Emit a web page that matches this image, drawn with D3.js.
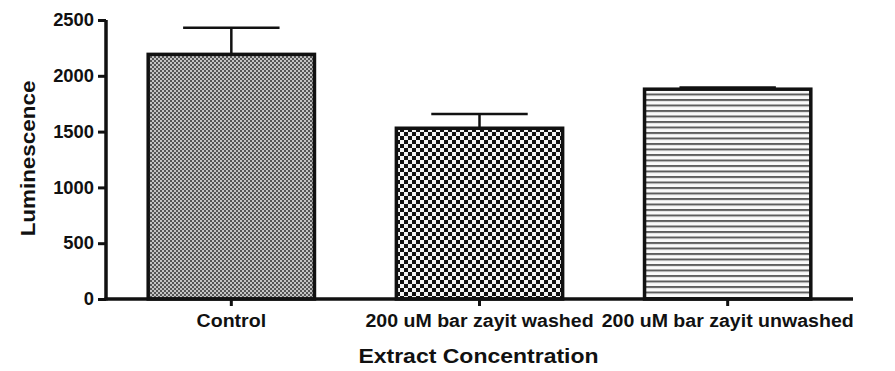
<!DOCTYPE html>
<html>
<head>
<meta charset="utf-8">
<script src="https://cdn.jsdelivr.net/npm/d3@7"></script>
<style>
  html, body { margin: 0; padding: 0; background: #fff; }
  svg { display: block; }
  text { font-family: "Liberation Sans", Arial, sans-serif; font-weight: bold; fill: #111; }
</style>
</head>
<body>
<svg id="chart" width="895" height="371"></svg>
<script>
// Luminescence by extract concentration (mean with upper SEM)
const categories = ["Control", "200 uM bar zayit washed", "200 uM bar zayit unwashed"];
const means = [2192, 1530, 1880];
const errors = [238, 128, 15];
const yTicks = [0, 500, 1000, 1500, 2000, 2500];
const patternIds = ["fineCheck", "coarseCheck", "hStripes"];

const svg = d3.select("#chart");
const plotLeft = 106, plotRight = 853, plotTop = 20, plotBottom = 299;

const x = d3.scaleBand().domain(categories).range([plotLeft, plotRight])
  .paddingInner(0.33).paddingOuter(0.17);
const y = d3.scaleLinear().domain([0, 2500]).range([plotBottom, plotTop]);

// Fill patterns
const defs = svg.append("defs");
const p1 = defs.append("pattern").attr("id", "fineCheck").attr("patternUnits", "userSpaceOnUse")
  .attr("width", 4).attr("height", 4);
p1.append("rect").attr("width", 4).attr("height", 4).attr("fill", "#555");
p1.append("rect").attr("x", 0).attr("y", 0).attr("width", 2).attr("height", 2).attr("fill", "#c4c4c4");
p1.append("rect").attr("x", 2).attr("y", 2).attr("width", 2).attr("height", 2).attr("fill", "#c4c4c4");

const p2 = defs.append("pattern").attr("id", "coarseCheck").attr("patternUnits", "userSpaceOnUse")
  .attr("width", 8).attr("height", 8);
p2.append("rect").attr("width", 8).attr("height", 8).attr("fill", "#f4f4f4");
p2.append("rect").attr("x", 0).attr("y", 0).attr("width", 4).attr("height", 4).attr("fill", "#111");
p2.append("rect").attr("x", 4).attr("y", 4).attr("width", 4).attr("height", 4).attr("fill", "#111");

const p3 = defs.append("pattern").attr("id", "hStripes").attr("patternUnits", "userSpaceOnUse")
  .attr("width", 8).attr("height", 5.5);
p3.append("rect").attr("width", 8).attr("height", 5.5).attr("fill", "#fafafa");
p3.append("rect").attr("x", 0).attr("y", 0).attr("width", 8).attr("height", 2).attr("fill", "#5e5e5e");

const data = categories.map((c, i) => ({ c, m: means[i], e: errors[i], p: patternIds[i] }));

// Error bars (drawn first so the bar outline sits on top)
const capW = x.bandwidth() * 0.58;
const eb = svg.append("g").attr("stroke", "#111").attr("stroke-width", 2.5);
data.forEach(d => {
  const cx = x(d.c) + x.bandwidth() / 2;
  eb.append("line").attr("x1", cx).attr("x2", cx).attr("y1", y(d.m)).attr("y2", y(d.m + d.e));
  eb.append("line").attr("x1", cx - capW / 2).attr("x2", cx + capW / 2)
    .attr("y1", y(d.m + d.e)).attr("y2", y(d.m + d.e));
});

// Bars
svg.append("g").selectAll("rect").data(data).join("rect")
  .attr("x", d => x(d.c))
  .attr("y", d => y(d.m))
  .attr("width", x.bandwidth())
  .attr("height", d => y(0) - y(d.m))
  .attr("fill", d => `url(#${d.p})`)
  .attr("stroke", "#111")
  .attr("stroke-width", 3.5);

// Axes
const yAxis = svg.append("g").attr("transform", `translate(${plotLeft},0)`)
  .call(d3.axisLeft(y).tickValues(yTicks).tickSize(8).tickFormat(d3.format("d")));
const xAxis = svg.append("g").attr("transform", `translate(0,${plotBottom})`)
  .call(d3.axisBottom(x).tickSize(7));
[yAxis, xAxis].forEach(a => {
  a.select(".domain").attr("stroke", "#111").attr("stroke-width", 3.5);
  a.selectAll(".tick line").attr("stroke", "#111").attr("stroke-width", 3);
});
yAxis.select(".domain").attr("d", `M0,${plotBottom + 1.5}V${plotTop}`);
xAxis.select(".domain").attr("d", `M${plotLeft - 1.5},0H${plotRight}`);

// Tick labels, slightly widened
const ySx = 1.05, xSx = 1.03;
yAxis.selectAll(".tick text").attr("font-size", 17.5).attr("font-family", null)
  .attr("x", -12 / ySx).attr("transform", `scale(${ySx},1)`);
xAxis.selectAll(".tick text").attr("font-size", 19).attr("font-family", null)
  .attr("y", 14.5).attr("transform", `scale(${xSx},1)`);

// Axis titles
svg.append("text").attr("transform", `translate(${(plotLeft + plotRight) / 2 - 1},363) scale(1.15,1)`)
  .attr("text-anchor", "middle").attr("font-size", 20).text("Extract Concentration");
svg.append("text").attr("transform", `translate(35,158.5) rotate(-90) scale(1.15,1)`)
  .attr("text-anchor", "middle").attr("font-size", 19.5).text("Luminescence");
</script>
</body>
</html>
